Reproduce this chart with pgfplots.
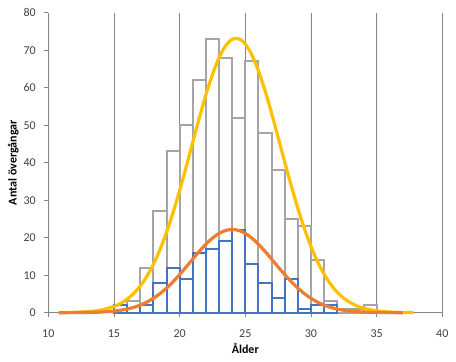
\documentclass[border=0pt]{standalone}
\usepackage{fontspec}
\setmainfont{Carlito}
\usepackage{pgfplots}
\pgfplotsset{compat=1.18}
\definecolor{gridc}{RGB}{134,134,134}
\definecolor{barg}{RGB}{165,165,165}
\definecolor{barb}{RGB}{68,114,196}
\definecolor{cyel}{RGB}{255,192,0}
\definecolor{corg}{RGB}{237,125,49}
\definecolor{txt}{RGB}{64,64,64}
\begin{document}
\begin{tikzpicture}
\useasboundingbox (-48.3bp,-49.3bp) rectangle (407.7bp,312.7bp);
\begin{axis}[
  at={(0,0)}, anchor=south west,
  scale only axis, width=394bp, height=300bp,
  xmin=10, xmax=40, ymin=0, ymax=80,
  xtick={10,15,...,40}, ytick={0,10,...,80},
  axis lines=left,
  axis line style={-, draw=gridc, line width=0.8bp},
  xmajorgrids, major grid style={draw=gridc, line width=0.8bp},
  tick align=outside, major tick length=4bp,
  tick style={draw=gridc, line width=0.8bp},
  /pgf/number format/assume math mode=true,
  ticklabel style={font=\fontsize{12bp}{14bp}\selectfont, text=txt},
  xticklabel style={anchor=base, inner sep=0pt, yshift=-21bp},
  yticklabel style={anchor=east, inner sep=0pt, xshift=-12.3bp+4bp},
  xlabel={Ålder},
  ylabel={Antal övergångar},
  label style={font=\fontsize{12bp}{14bp}\selectfont\bfseries, text=black},
  xlabel style={at={(axis description cs:0.5,-0.1353)}, anchor=base},
  ylabel style={at={(axis description cs:-0.0802,0.5)}, anchor=base},
  clip=false,
]
% gray histogram
\addplot[ybar, bar width=1, bar shift=0pt, draw=barg, fill=none, line width=2bp]
 coordinates {(15.5,2) (16.5,3) (17.5,12) (18.5,27) (19.5,43) (20.5,50) (21.5,62)
  (22.5,73) (23.5,68) (24.5,52) (25.5,67) (26.5,48) (27.5,38) (28.5,25) (29.5,23)
  (30.5,14) (31.5,3) (32.5,1) (33.5,1) (34.5,2)};
% blue histogram
\addplot[ybar, bar width=1, bar shift=0pt, draw=barb, fill=none, line width=2bp]
 coordinates {(15.5,2) (16.5,0) (17.5,2) (18.5,8) (19.5,12) (20.5,9) (21.5,16)
  (22.5,17) (23.5,19) (24.5,22) (25.5,13) (26.5,8) (27.5,4) (28.5,9) (29.5,1)
  (30.5,2) (31.5,2)};
% yellow curve
\addplot[smooth, no markers, draw=cyel, line width=3.2bp]
 coordinates {(10.8,0.02) (12,0.10) (13,0.27) (14,0.70) (15,1.66) (15.5,2.47) (16,3.59)
  (16.5,5.11) (17,7.11) (17.5,9.67) (18,12.89) (18.5,16.79) (19,21.41) (19.5,26.71)
  (20,32.59) (20.5,38.91) (21,45.45) (21.5,51.94) (22,58.07) (22.5,63.52) (23,67.98)
  (23.5,71.18) (24,72.91) (24.5,73.07) (25,71.65) (25.5,68.73) (26,64.50) (26.5,59.23)
  (27,53.20) (27.5,46.76) (28,40.21) (28.5,33.83) (29,27.84) (29.5,22.41) (30,17.66)
  (30.5,13.62) (31,10.26) (31.5,7.57) (32,5.47) (32.5,3.86) (33,2.67) (33.5,1.80)
  (34,1.19) (35,0.49) (36,0.18) (37,0.06) (37.8,0.03)};
% orange curve
\addplot[smooth, no markers, draw=corg, line width=3.2bp]
 coordinates {(10.8,0.01) (12,0.02) (13,0.06) (14,0.17) (15,0.43) (15.5,0.65) (16,0.98)
  (16.5,1.42) (17,2.03) (17.5,2.82) (18,3.83) (18.5,5.07) (19,6.55) (19.5,8.26)
  (20,10.16) (20.5,12.21) (21,14.31) (21.5,16.36) (22,18.26) (22.5,19.89) (23,21.14)
  (23.5,21.93) (24,22.2) (24.5,21.93) (25,21.14) (25.5,19.89) (26,18.26) (26.5,16.36)
  (27,14.31) (27.5,12.21) (28,10.16) (28.5,8.26) (29,6.55) (29.5,5.07) (30,3.83)
  (30.5,2.82) (31,2.03) (31.5,1.42) (32,0.98) (32.5,0.65) (33,0.43) (34,0.17)
  (35,0.06) (36,0.02) (37,0.01)};
\end{axis}
\end{tikzpicture}
\end{document}
